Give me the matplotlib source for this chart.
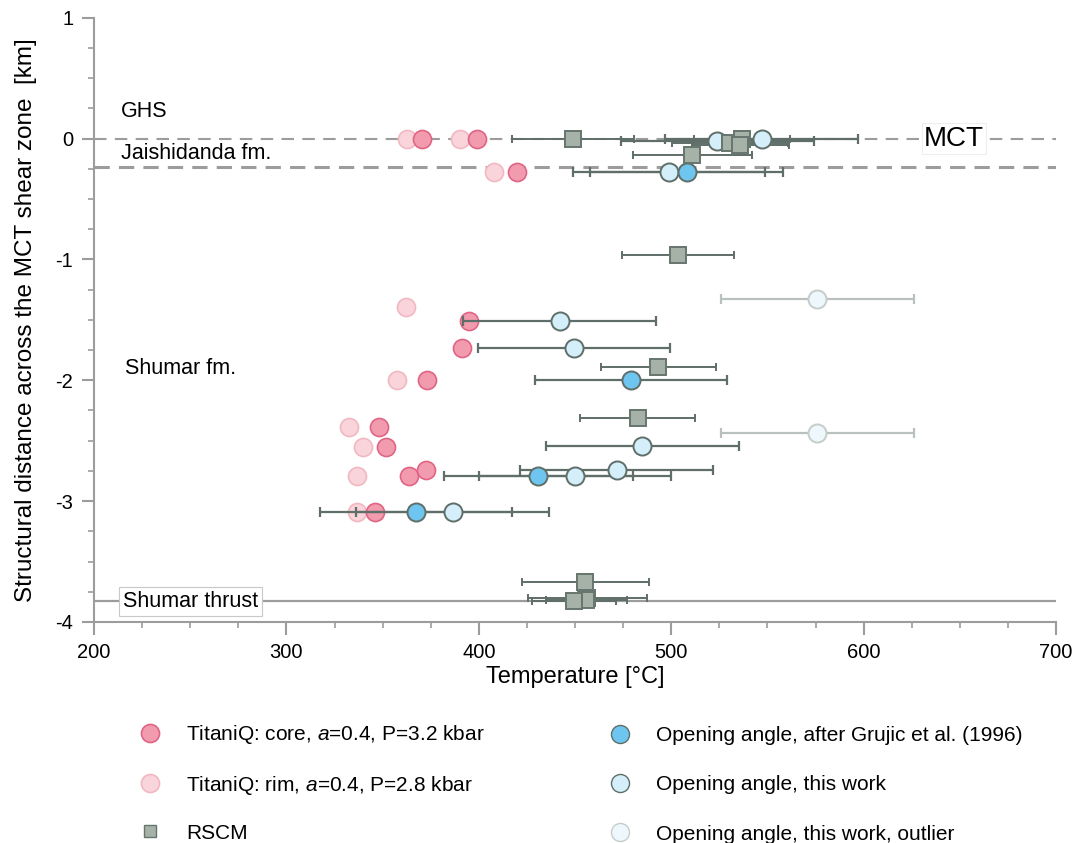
import numpy as np
import matplotlib
matplotlib.use("Agg")
import matplotlib.pyplot as plt
from matplotlib.lines import Line2D

plt.rcParams['font.family'] = ['Liberation Sans', 'DejaVu Sans']
plt.rcParams['mathtext.fontset'] = 'custom'
plt.rcParams['mathtext.rm'] = 'Liberation Sans'
plt.rcParams['mathtext.it'] = 'Liberation Sans:italic'
plt.rcParams['axes.unicode_minus'] = False

# ---------------- data ----------------
core_T = [370.5, 399, 420, 395, 391.4, 373.3, 348, 351.6, 363.9, 372.4, 346]
core_y = [0, 0, -0.28, -1.51, -1.73, -2.0, -2.39, -2.55, -2.79, -2.74, -3.09]

rim_T = [362.5, 390, 408, 362, 357.3, 332.7, 340, 336.5, 336.9]
rim_y = [0, 0, -0.28, -1.39, -2.0, -2.39, -2.55, -2.79, -3.09]

grujic_T = [508, 479, 431, 367.4]
grujic_y = [-0.28, -2.0, -2.79, -3.09]
grujic_err = [50, 50, 49, 50]

work_T = [524, 547, 499, 442, 449.5, 485, 450, 471.6, 386.4]
work_y = [-0.02, 0, -0.28, -1.51, -1.73, -2.54, -2.79, -2.74, -3.09]
work_err = [50, 50, 50, 50, 50, 50, 50, 50, 50]

outlier_T = [576, 576]
outlier_y = [-1.33, -2.44]
outlier_err = [50, 50]

rscm_T = [449, 530.5, 536.6, 536, 511, 503.5, 493.3, 482.6, 455.2, 456.4, 455.8, 449.5]
rscm_y = [0, -0.04, 0, -0.05, -0.14, -0.96, -1.89, -2.31, -3.67, -3.80, -3.82, -3.83]
rscm_err = [31.5, 30, 25, 25, 31, 29, 30, 30, 33, 31, 21, 22]

mct_y = 0
jaishi_base_y = -0.237
thrust_y = -3.83

# ---------------- colours ----------------
core_fc, core_ec = '#F29AAE', '#E06584'
rim_fc, rim_ec = '#F9D4DA', '#F1B8C2'
grujic_fc = '#6EC6F0'
work_fc = '#D4EEFA'
outlier_fc, outlier_ec = '#EEF8FC', '#C5CDCB'
rscm_fc, rscm_ec = '#A6B1A8', '#66756E'
dark = '#5F6E68'
axis_grey = '#9C9C9C'

fig = plt.figure(figsize=(10.77, 8.43), dpi=100)
ax = fig.add_axes([0.0873, 0.2622, 0.8932, 0.7168])

# boundary lines
ax.axhline(mct_y, color=axis_grey, lw=1.5, ls=(0, (6, 4)), zorder=1)
ax.axhline(jaishi_base_y, color=axis_grey, lw=2.2, ls=(0, (5, 3)), zorder=1)
ax.axhline(thrust_y, color=axis_grey, lw=1.6, zorder=1)

ms_c = 13
ms_s = 11

# TitaniQ
ax.plot(rim_T, rim_y, 'o', ms=ms_c, mfc=rim_fc, mec=rim_ec, mew=1.2, zorder=2)
ax.plot(core_T, core_y, 'o', ms=ms_c, mfc=core_fc, mec=core_ec, mew=1.2, zorder=2)

# error bars
ax.errorbar(outlier_T, outlier_y, xerr=outlier_err, fmt='none', ecolor='#B9C1BE',
            elinewidth=1.6, capsize=3.5, capthick=1.6, zorder=3)
ax.errorbar(work_T, work_y, xerr=work_err, fmt='none', ecolor=dark,
            elinewidth=1.6, capsize=3.5, capthick=1.6, zorder=3)
ax.errorbar(grujic_T, grujic_y, xerr=grujic_err, fmt='none', ecolor=dark,
            elinewidth=1.6, capsize=3.5, capthick=1.6, zorder=3)
ax.errorbar(rscm_T, rscm_y, xerr=rscm_err, fmt='none', ecolor=dark,
            elinewidth=1.4, capsize=3, capthick=1.4, zorder=3)

# markers
ax.plot(outlier_T, outlier_y, 'o', ms=ms_c, mfc=outlier_fc, mec=outlier_ec, mew=1.4, zorder=4)
ax.plot(work_T, work_y, 'o', ms=ms_c, mfc=work_fc, mec=dark, mew=1.4, zorder=4)
ax.plot(grujic_T, grujic_y, 'o', ms=ms_c, mfc=grujic_fc, mec=dark, mew=1.4, zorder=4)
ax.plot(rscm_T, rscm_y, 's', ms=ms_s, mfc=rscm_fc, mec=rscm_ec, mew=1.4, zorder=4)

# labels inside the plot
ax.text(214, 0.22, 'GHS', fontsize=15.5, va='center', ha='left')
ax.text(214, -0.12, 'Jaishidanda fm.', fontsize=15.5, va='center', ha='left')
ax.text(216, -1.9, 'Shumar fm.', fontsize=15.5, va='center', ha='left')
ax.text(215, thrust_y, 'Shumar thrust', fontsize=15.5, va='center', ha='left', zorder=5,
        bbox=dict(boxstyle='square,pad=0.2', fc='white', ec='#C8C8C8', lw=0.8))
ax.text(647, mct_y, 'MCT', fontsize=20, va='center', ha='center', zorder=5,
        bbox=dict(boxstyle='square,pad=0.08', fc='white', ec='#EEEEEE', lw=0.8))

# axes styling
ax.set_xlim(200, 700)
ax.set_ylim(-4, 1)
ax.set_xticks(np.arange(200, 701, 100))
ax.set_xticks(np.arange(200, 701, 25), minor=True)
ax.set_yticks(np.arange(-4, 1.01, 1))
ax.set_yticks(np.arange(-4, 1.01, 0.25), minor=True)
for s in ['top', 'right']:
    ax.spines[s].set_visible(False)
for s in ['left', 'bottom']:
    ax.spines[s].set_color(axis_grey)
    ax.spines[s].set_linewidth(1.5)
ax.tick_params(which='major', length=9, width=1.5, color=axis_grey, labelsize=14.5, pad=6)
ax.tick_params(which='minor', length=4, width=1.2, color=axis_grey)
ax.set_xlabel('Temperature [°C]', fontsize=17, labelpad=3)
ax.set_ylabel('Structural distance across the MCT shear zone  [km]', fontsize=17.5, labelpad=13)

# legend (two blocks)
left_handles = [
    Line2D([], [], ls='none', marker='o', ms=ms_c, mfc=core_fc, mec=core_ec, mew=1.2),
    Line2D([], [], ls='none', marker='o', ms=ms_c, mfc=rim_fc, mec=rim_ec, mew=1.2),
    Line2D([], [], ls='none', marker='s', ms=8, mfc=rscm_fc, mec=rscm_ec, mew=1.0),
]
left_labels = [
    'TitaniQ: core, $a$=0.4, P=3.2 kbar',
    'TitaniQ: rim, $a$=0.4, P=2.8 kbar',
    'RSCM',
]
right_handles = [
    Line2D([], [], ls='none', marker='o', ms=ms_c, mfc=grujic_fc, mec=dark, mew=1.0),
    Line2D([], [], ls='none', marker='o', ms=ms_c, mfc=work_fc, mec=dark, mew=1.0),
    Line2D([], [], ls='none', marker='o', ms=ms_c, mfc=outlier_fc, mec=outlier_ec, mew=1.0),
]
right_labels = [
    'Opening angle, after Grujic et al. (1996)',
    'Opening angle, this work',
    'Opening angle, this work, outlier',
]
leg_kw = dict(loc='upper left', frameon=False, fontsize=15,
              handlelength=1.0, handletextpad=1.23, borderaxespad=0, borderpad=0)
fig.legend(left_handles, left_labels, bbox_to_anchor=(0.1296, 0.1418),
           labelspacing=1.3, **leg_kw)
fig.legend(right_handles, right_labels, bbox_to_anchor=(0.566, 0.1385),
           labelspacing=1.45, **leg_kw)

fig.savefig('out.png', dpi=100)
